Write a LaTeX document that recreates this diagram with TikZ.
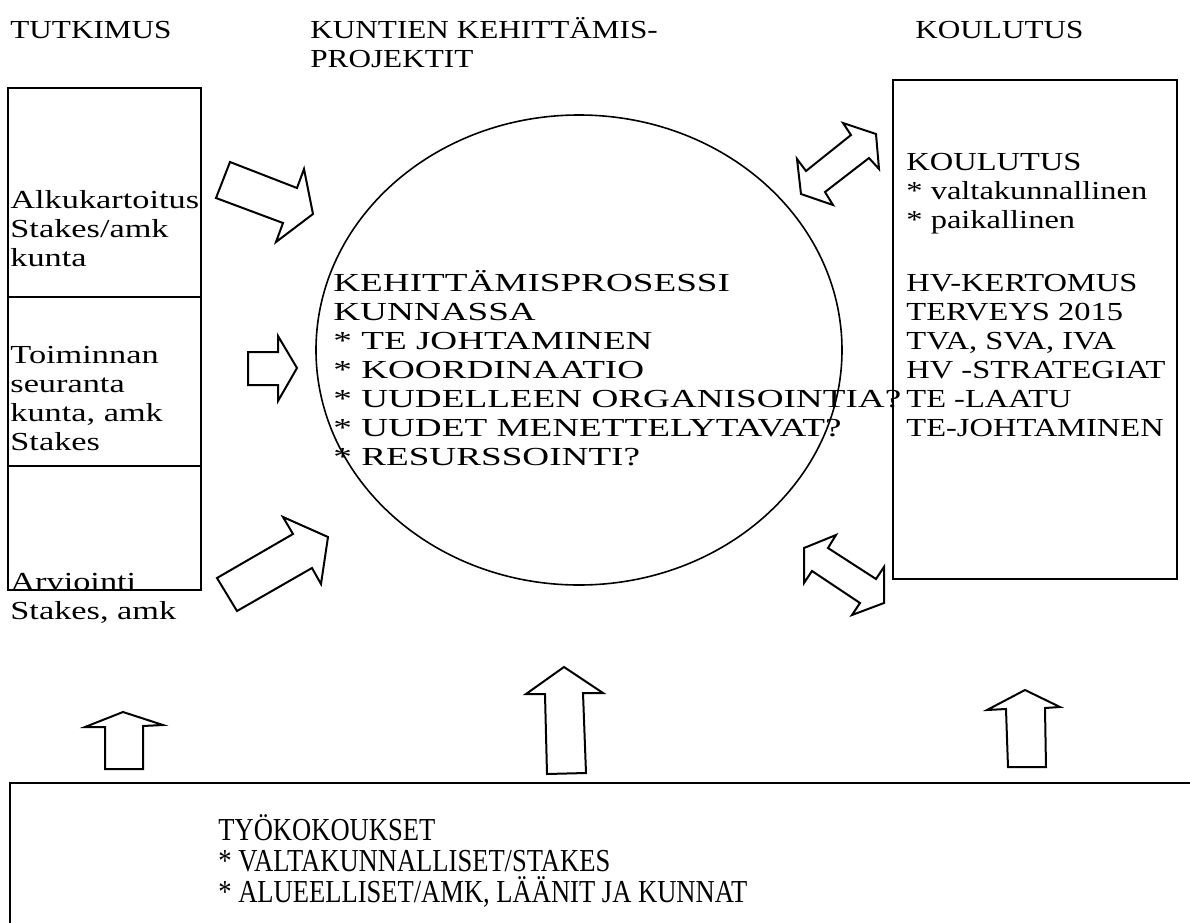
\documentclass[tikz,border=0pt]{standalone}
\usepackage{fontspec}
\setmainfont{Liberation Serif}
\newfontfamily\wideserif[FakeStretch=1.32]{Liberation Serif}
\newfontfamily\widerserif[FakeStretch=1.43]{Liberation Serif}
\newfontfamily\boxserif[FakeStretch=1.25]{Liberation Serif}
\newfontfamily\headserif[FakeStretch=1.2]{Liberation Serif}
\newfontfamily\narrowserif[FakeStretch=0.83]{Liberation Serif}
\usetikzlibrary{positioning}
\newcommand{\toprow}{\rule{0pt}{12pt}}
\tikzset{
  txt/.style={inner sep=0pt,anchor=north west,align=left,font=\wideserif\fontsize{13}{14.5}\selectfont},
  box/.style={draw,line width=0.7pt},
  blockarrow/.style={draw,line width=1pt,line join=miter}}
\begin{document}
\begin{tikzpicture}[x=0.5pt,y=-0.5pt]
  \useasboundingbox (0,0) rectangle (1190,922);
  % headings
  \node[txt,font=\headserif\fontsize{13}{14.5}\selectfont](tutkimus) at(10,14){\toprow TUTKIMUS};
  \node[txt,font=\headserif\fontsize{13}{14.5}\selectfont](kuntien) at(310,14){\toprow KUNTIEN KEHITT\"AMIS-\\PROJEKTIT};
  \node[txt,font=\headserif\fontsize{13}{14.5}\selectfont](koulutusotsikko) at(915,14){\toprow KOULUTUS};
  % left column
  \draw[box](8,88) rectangle (201,590);
  \draw[box](8,297)--(201,297);\draw[box](8,466)--(201,466);
  \node[txt](alku) at(10,184){\toprow Alkukartoitus\\Stakes/amk\\kunta};
  \node[txt](seuranta) at(10,339){\toprow Toiminnan\\seuranta\\kunta, amk\\Stakes};
  \node[txt](arviointi) at(10,566){\toprow Arviointi\\Stakes, amk};
  % centre
  \draw[line width=0.8pt](579,350) ellipse [x radius=131.5pt,y radius=117.5pt];
  \node[txt,font=\widerserif\fontsize{13}{14.5}\selectfont](prosessi) at(333,267){\toprow KEHITT\"AMISPROSESSI\\KUNNASSA\\* TE JOHTAMINEN\\* KOORDINAATIO\\* UUDELLEEN ORGANISOINTIA?\\* UUDET MENETTELYTAVAT?\\* RESURSSOINTI?};
  % right column
  \draw[box](893,80) rectangle (1177,579);
  \node[txt,font=\boxserif\fontsize{13}{14.5}\selectfont](koulutus) at(906,146){\toprow KOULUTUS\\* valtakunnallinen\\* paikallinen};
  \node[txt,font=\boxserif\fontsize{13}{14.5}\selectfont](kertomus) at(906,267){\toprow HV-KERTOMUS\\TERVEYS 2015\\TVA, SVA, IVA\\HV -STRATEGIAT\\TE -LAATU\\TE-JOHTAMINEN};
  % bottom
  \draw[box](1192,783)--(10,783)--(10,924);
  \node[txt,font=\narrowserif\fontsize{16}{15.5}\selectfont](tyokokoukset) at(218,814){\toprow TY\"OKOKOUKSET\\* VALTAKUNNALLISET/STAKES\\* ALUEELLISET/AMK, L\"A\"ANIT JA KUNNAT};
  % block arrows
  \draw[blockarrow](230,162)--(297,188)--(304,169)--(313,214)--(276,242)--(283,223)--(216,198)--cycle;
  \draw[blockarrow](248,352)--(278,352)--(278,336)--(297,368)--(278,401)--(278,385)--(248,385)--cycle;
  \draw[blockarrow](217,578)--(293,534)--(283,517)--(328,537)--(321,584)--(312,568)--(237,611)--cycle;
  \draw[blockarrow](876,134)--(843,123)--(851,135)--(806,171)--(797,159)--(801,194)--(833,205)--(825,192)--(869,158)--(879,169)--cycle;
  \draw[blockarrow](804,548)--(836,535)--(828,548)--(876,579)--(884,567)--(884,603)--(852,615)--(860,603)--(812,571)--(804,583)--cycle;
  \draw[blockarrow](123,712)--(163,725)--(143,726)--(143,769)--(105,769)--(105,727)--(85,727)--cycle;
  \draw[blockarrow](564,667)--(603,693)--(583,693)--(586,773)--(547,774)--(545,694)--(526,694)--cycle;
  \draw[blockarrow](1025,690)--(1060,707)--(1045,708)--(1046,767)--(1008,767)--(1006,709)--(987,710)--cycle;
\end{tikzpicture}
\end{document}
